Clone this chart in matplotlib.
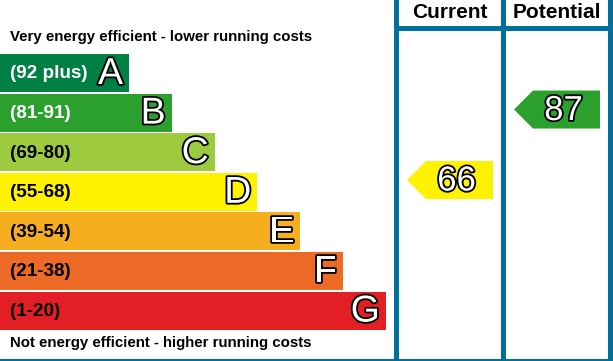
import matplotlib.pyplot as plt
import matplotlib.patheffects as pe
from matplotlib.patches import Rectangle, Polygon

bands = ["A", "B", "C", "D", "E", "F", "G"]
ranges = ["(92 plus)", "(81-91)", "(69-80)", "(55-68)", "(39-54)", "(21-38)", "(1-20)"]
band_colors = ["#008045", "#2ca02f", "#9dca3e", "#fff200", "#f6ae20", "#ec6a25", "#e31e25"]
label_colors = ["white", "white", "black", "black", "black", "black", "black"]

columns = ["Current", "Potential"]
ratings = [66, 87]
rating_bands = ["D", "B"]

BLUE = "#00709c"
FONT = ["Liberation Sans", "DejaVu Sans"]

fig = plt.figure(figsize=(6.13, 3.61), dpi=100)
ax = fig.add_axes([0, 0, 1, 1])
ax.set_xlim(0, 613)
ax.set_ylim(361, 0)
ax.axis("off")

# rating bars
top0, step, bar_h = 54, 39.6, 38
outline = [pe.withStroke(linewidth=2.6, foreground="black")]
for i, (band, rng, col, lc) in enumerate(zip(bands, ranges, band_colors, label_colors)):
    y = top0 + i * step
    w = 129 + i * 42.8
    ax.add_patch(Rectangle((0, y), w, bar_h, facecolor=col, edgecolor="none"))
    ax.text(10, y + bar_h / 2 + 1, rng, ha="left", va="center", fontsize=13.6,
            fontweight="bold", color=lc, family=FONT)
    ax.text(w - 6, y + bar_h / 2 + 1, band, ha="right", va="center", fontsize=27,
            color="white", family=FONT, path_effects=outline)

ax.text(10, 37.5, "Very energy efficient - lower running costs", ha="left", va="center",
        fontsize=10.8, fontweight="bold", color="black", family=FONT)
ax.text(10, 343, "Not energy efficient - higher running costs", ha="left", va="center",
        fontsize=10.8, fontweight="bold", color="black", family=FONT)

# frame
col_lefts = [399, 506]
col_w = 102
for x in [394, 501, 608]:
    ax.add_patch(Rectangle((x, 0), 5, 361, facecolor=BLUE, edgecolor="none"))
ax.add_patch(Rectangle((394, 25.5), 219, 5.5, facecolor=BLUE, edgecolor="none"))
ax.add_patch(Rectangle((0, 358.5), 613, 2.5, facecolor=BLUE, edgecolor="none"))

for name, x in zip(columns, col_lefts):
    ax.text(x + col_w / 2, 13, name, ha="center", va="center", fontsize=15,
            fontweight="bold", color="black", family=FONT)

# rating arrows, placed on a linear value scale
px_per_point = 3.357
y_at_100 = 65.9
arrow_h, notch = 38, 19
for x, val, band in zip(col_lefts, ratings, rating_bands):
    yc = y_at_100 + (100 - val) * px_per_point
    x0, x2 = x + 8, x + col_w - 8
    x1 = x0 + notch
    color = band_colors[bands.index(band)]
    ax.add_patch(Polygon([(x0, yc), (x1, yc - arrow_h / 2), (x2, yc - arrow_h / 2),
                          (x2, yc + arrow_h / 2), (x1, yc + arrow_h / 2)],
                         closed=True, facecolor=color, edgecolor="none"))
    ax.text((x1 + x2) / 2 - 3, yc + 1, str(val), ha="center", va="center", fontsize=25,
            color="white", family=FONT, path_effects=outline)

fig.savefig("out.png", dpi=100)
